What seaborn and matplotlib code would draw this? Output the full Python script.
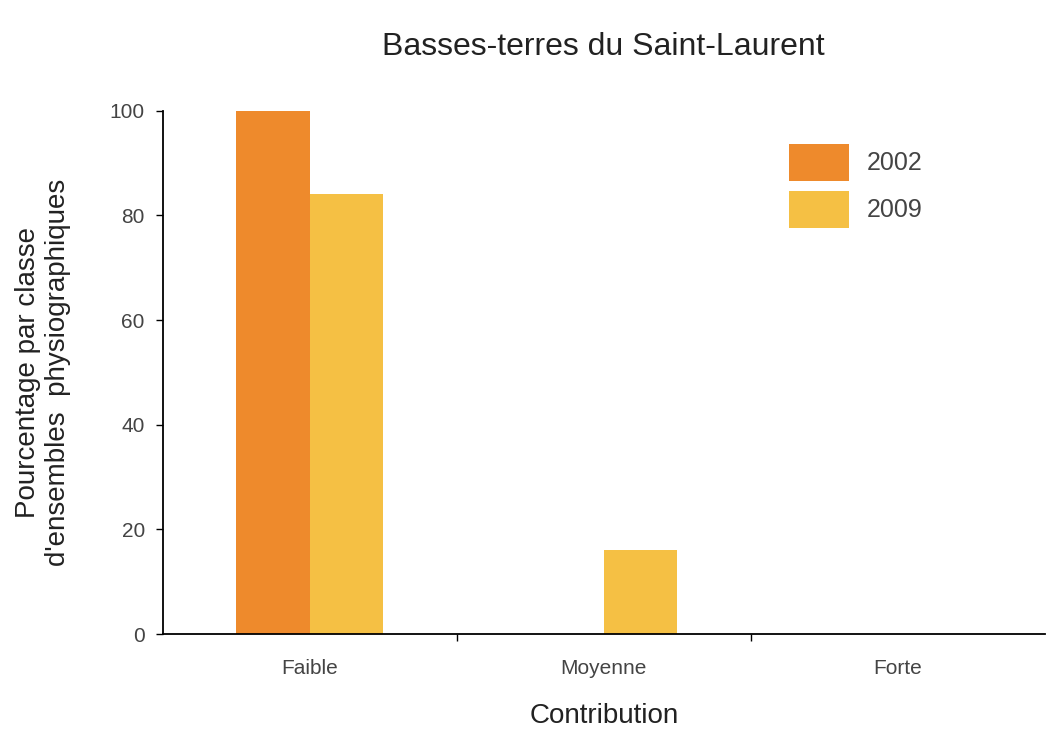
import pandas as pd
import seaborn as sns
import matplotlib.pyplot as plt

# données
categories = ['Faible', 'Moyenne', 'Forte']
annees = ['2002', '2009']
valeurs_2002 = [100, 0, 0]
valeurs_2009 = [84, 16, 0]
couleurs = ['#EE8A2C', '#F5C044']

df = pd.DataFrame({
    'Contribution': categories * 2,
    'Annee': [annees[0]] * 3 + [annees[1]] * 3,
    'Pourcentage': valeurs_2002 + valeurs_2009,
})

sns.set_style('white')
plt.rcParams['font.family'] = ['Liberation Sans', 'DejaVu Sans']
gris = '#444444'

fig = plt.figure(figsize=(10.51, 7.33), dpi=100)
ax = fig.add_axes([0.155, 0.135, 0.839, 0.714])

sns.barplot(data=df, x='Contribution', y='Pourcentage', hue='Annee',
            palette=couleurs, width=0.5, saturation=1, linewidth=0, ax=ax)

ax.set_xlim(-0.5, 2.5)
ax.set_ylim(0, 100)
ax.set_yticks([0, 20, 40, 60, 80, 100])
ax.set_xticks([0.5, 1.5], minor=True)
ax.tick_params(axis='x', which='major', length=0, pad=18, labelsize=15, labelcolor=gris)
ax.tick_params(axis='x', which='minor', bottom=True, length=5, width=1,
               direction='out', color='black')
ax.tick_params(axis='y', length=5, width=1, direction='out', color='black',
               labelsize=15, labelcolor=gris, left=True, pad=8)

for s in ['top', 'right']:
    ax.spines[s].set_visible(False)
for s in ['left', 'bottom']:
    ax.spines[s].set_color('black')
    ax.spines[s].set_linewidth(1.3)

ax.set_xlabel('Contribution', fontsize=20, color='#222222', labelpad=18)
ax.set_ylabel("Pourcentage par classe\nd'ensembles  physiographiques",
              fontsize=20, color='#222222', labelpad=28)
ax.set_title('Basses-terres du Saint-Laurent', fontsize=23, color='#222222', pad=40)

leg = ax.legend(loc='upper left', bbox_to_anchor=(0.685, 0.98), frameon=False,
                fontsize=18, handlelength=2.4, handleheight=1.9, labelspacing=0.4,
                handletextpad=0.7)
for t in leg.get_texts():
    t.set_color(gris)

fig.savefig('out.png', dpi=100)
